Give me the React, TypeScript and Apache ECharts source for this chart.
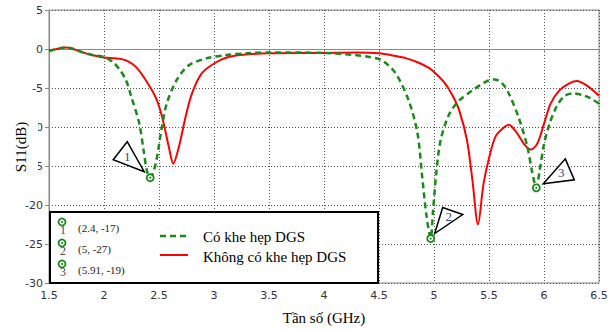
import { useEffect, useRef } from 'react';
import * as echarts from 'echarts';

// Có khe hẹp DGS (green dashed)
const greenX = [1.5, 1.6, 1.65, 1.7, 1.8, 1.9, 2.0, 2.09, 2.15, 2.2, 2.25, 2.32, 2.36, 2.39, 2.42, 2.47, 2.52, 2.57, 2.66, 2.77, 2.93, 3.1, 3.3, 3.5, 4.0, 4.3, 4.4, 4.52, 4.65, 4.77, 4.85, 4.89, 4.93, 4.97, 4.99, 5.02, 5.06, 5.14, 5.23, 5.35, 5.47, 5.55, 5.62, 5.68, 5.77, 5.85, 5.89, 5.93, 5.96, 6.0, 6.05, 6.11, 6.18, 6.26, 6.35, 6.42, 6.5];
const greenY = [-0.3, 0.1, 0.2, 0.1, -0.4, -0.8, -1.0, -1.8, -2.8, -4.0, -6.2, -9.5, -13, -15.6, -16.5, -14.7, -10.5, -7.0, -4.0, -2.1, -1.2, -0.8, -0.55, -0.45, -0.5, -0.8, -1.0, -1.4, -3.1, -6.6, -10.8, -16, -21.2, -24.3, -21, -16, -11.7, -8.3, -6.6, -5.3, -4.2, -3.9, -4.4, -5.7, -8.8, -12.6, -15.6, -17.8, -15.6, -12.2, -9.6, -7.5, -6.1, -5.7, -5.9, -6.3, -7.0];

// Không có khe hẹp DGS (red solid)
const redX = [1.5, 1.6, 1.65, 1.7, 1.8, 1.9, 2.0, 2.1, 2.16, 2.22, 2.29, 2.38, 2.47, 2.53, 2.59, 2.63, 2.68, 2.74, 2.8, 2.89, 3.02, 3.14, 3.3, 3.5, 4.0, 4.3, 4.5, 4.65, 4.75, 4.85, 4.95, 5.02, 5.1, 5.17, 5.23, 5.3, 5.35, 5.4, 5.45, 5.5, 5.56, 5.64, 5.68, 5.75, 5.83, 5.88, 5.94, 6.0, 6.06, 6.14, 6.23, 6.3, 6.38, 6.47, 6.5];
const redY = [-0.2, 0.1, 0.2, 0.1, -0.4, -0.8, -1.1, -1.2, -1.3, -1.6, -2.3, -4.0, -6.2, -8.8, -12.6, -14.7, -12.6, -8.8, -5.7, -3.1, -1.7, -1.0, -0.7, -0.55, -0.5, -0.45, -0.55, -0.9, -1.2, -1.7, -2.4, -3.2, -4.4, -6.0, -7.9, -11.7, -16.9, -22.5, -17.3, -14.0, -11.2, -10.0, -9.7, -10.7, -12.4, -12.9, -12.1, -9.6, -7.0, -5.3, -4.4, -4.1, -4.6, -5.6, -6.0];

// Markers
const markerX = [2.42, 4.97, 5.93];
const markerY = [-16.5, -24.3, -17.8];
const markerNames = ['1', '2', '3'];
const markerLegendTexts = ['(2.4, -17)', '(5, -27)', '(5.91, -19)'];

const seriesNames = ['Có khe hẹp DGS', 'Không có khe hẹp DGS'];
const xTitle = 'Tần số (GHz)';
const yTitle = 'S11(dB)';

const GREEN = '#1a8a1a';
const RED = '#ff0000';
const SERIF = '"Liberation Serif", "DejaVu Serif", serif';
const SANS = '"DejaVu Sans", sans-serif';

// callout triangle offsets (pixels relative to marker) and number offsets
const calloutShapes = [
  { pts: [[-23, -36], [-37, -18], [-6, -6]], txt: [-23, -21] },
  { pts: [[12, -31], [32, -24], [4, -5]], txt: [18, -22] },
  { pts: [[29, -29], [38, -8], [7, -4]], txt: [25, -15] },
];

export default function App() {
  const ref = useRef<HTMLDivElement>(null);
  useEffect(() => {
    const chart = echarts.init(ref.current!, null, { renderer: 'svg' });
    const greenData = greenX.map((x, i) => [x, greenY[i]]);
    const redData = redX.map((x, i) => [x, redY[i]]);
    const markerData = markerX.map((x, i) => [x, markerY[i], i]);

    const legendIconGroup: any[] = [];
    markerNames.forEach((n, i) => {
      const cy = 222 + i * 21;
      legendIconGroup.push(
        { type: 'circle', z: 101, shape: { cx: 62, cy, r: 3.5 }, style: { fill: '#fff', stroke: GREEN, lineWidth: 1.8 } },
        { type: 'circle', z: 102, shape: { cx: 62, cy, r: 1 }, style: { fill: GREEN } },
        { type: 'text', z: 102, x: 63, y: cy + 8, style: { text: n, font: `12px ${SERIF}`, fill: '#4a4a5a', align: 'center', verticalAlign: 'middle' } },
        { type: 'text', z: 102, x: 78, y: cy + 6, style: { text: markerLegendTexts[i], font: `11px ${SERIF}`, fill: '#222', align: 'left', verticalAlign: 'middle' } },
      );
    });

    chart.setOption({
      animation: false,
      backgroundColor: '#fff',
      grid: { left: 49, right: 15, top: 10, height: 273, show: true, borderColor: '#8a8a8a', borderWidth: 1 },
      xAxis: {
        type: 'value', min: 1.5, max: 6.5, interval: 0.5,
        name: xTitle, nameLocation: 'middle', nameGap: 27,
        nameTextStyle: { fontFamily: SERIF, fontSize: 15, color: '#000' },
        axisLine: { show: true, lineStyle: { color: '#8a8a8a' } },
        axisTick: { show: true, length: 4, lineStyle: { color: '#8a8a8a' } },
        axisLabel: { fontFamily: SANS, fontSize: 11, color: '#333344', margin: 7, formatter: (v: number) => String(v) },
        splitLine: { show: true, lineStyle: { color: '#555', type: [1, 2], width: 1 } },
      },
      yAxis: {
        type: 'value', min: -30, max: 5, interval: 5,
        axisLine: { show: true, lineStyle: { color: '#8a8a8a' } },
        axisTick: { show: true, length: 4, lineStyle: { color: '#8a8a8a' } },
        axisLabel: { fontFamily: SANS, fontSize: 11, color: '#333344', margin: 6 },
        splitLine: { show: true, lineStyle: { color: '#555', type: [1, 2], width: 1 } },
      },
      series: [
        {
          name: seriesNames[0], type: 'line', data: greenData, smooth: 0.3, showSymbol: false, z: 3,
          lineStyle: { color: GREEN, width: 2.5, type: [6, 4] },
        },
        {
          name: seriesNames[1], type: 'line', data: redData, smooth: 0.3, showSymbol: false, z: 2,
          lineStyle: { color: RED, width: 2 },
        },
        {
          type: 'custom', data: markerData, z: 5, clip: false,
          renderItem: (params: any, api: any) => {
            const p = api.coord([api.value(0), api.value(1)]);
            const idx = api.value(2);
            const c = calloutShapes[idx];
            return {
              type: 'group',
              children: [
                { type: 'polygon', shape: { points: c.pts.map(([dx, dy]) => [p[0] + dx, p[1] + dy]) }, style: { fill: '#fff', stroke: '#000', lineWidth: 1.5 } },
                { type: 'text', x: p[0] + c.txt[0], y: p[1] + c.txt[1], style: { text: markerNames[idx], font: `13px ${SERIF}`, fill: '#3a4a7a', align: 'center', verticalAlign: 'middle' } },
                { type: 'circle', shape: { cx: p[0], cy: p[1], r: 3.5 }, style: { fill: '#fff', stroke: GREEN, lineWidth: 1.8 } },
                { type: 'circle', shape: { cx: p[0], cy: p[1], r: 1 }, style: { fill: GREEN } },
              ],
            };
          },
        },
      ],
      graphic: [
        { type: 'rect', z: 100, shape: { x: 10, y: 112, width: 28, height: 70 }, style: { fill: '#fff' } },
        { type: 'text', z: 101, x: 21, y: 147, rotation: Math.PI / 2, style: { text: yTitle, font: `15px ${SERIF}`, fill: '#000', align: 'center', verticalAlign: 'middle' } },
        { type: 'rect', z: 100, shape: { x: 50, y: 212, width: 328, height: 71 }, style: { fill: '#fff', stroke: '#000', lineWidth: 2 } },
        { type: 'line', z: 101, shape: { x1: 160, y1: 236, x2: 188, y2: 236 }, style: { stroke: GREEN, lineWidth: 2.5, lineDash: [6, 4] } },
        { type: 'text', z: 101, x: 203, y: 237, style: { text: seriesNames[0], font: `15px ${SERIF}`, fill: '#000', align: 'left', verticalAlign: 'middle' } },
        { type: 'line', z: 101, shape: { x1: 160, y1: 255, x2: 188, y2: 255 }, style: { stroke: RED, lineWidth: 2 } },
        { type: 'text', z: 101, x: 203, y: 257, style: { text: seriesNames[1], font: `15px ${SERIF}`, fill: '#000', align: 'left', verticalAlign: 'middle' } },
        ...legendIconGroup,
      ],
    });
    return () => chart.dispose();
  }, []);
  return <div ref={ref} style={{ position: 'fixed', left: 0, top: 0, width: 614, height: 331 }} />;
}
